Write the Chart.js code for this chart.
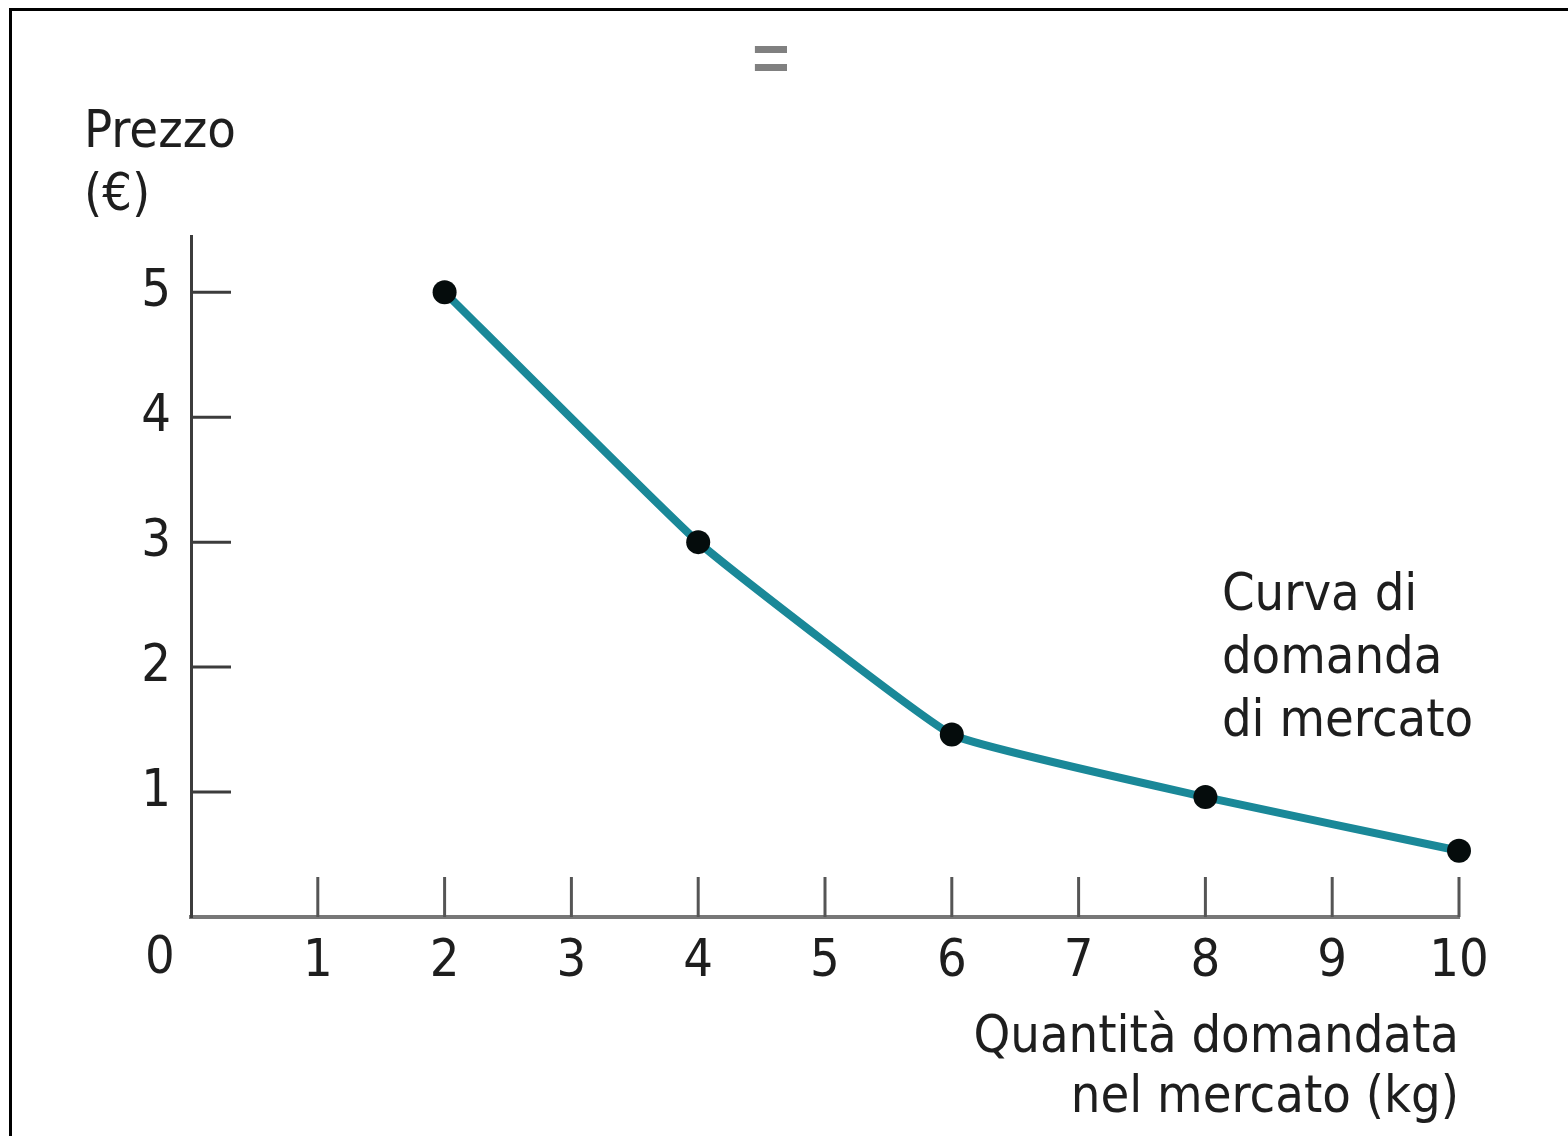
<!DOCTYPE html>
<html>
<head>
<meta charset="utf-8">
<script src="https://cdn.jsdelivr.net/npm/chart.js@4.4.1/dist/chart.umd.min.js"></script>
<style>
  html, body { margin: 0; padding: 0; background: #fff; overflow: hidden; }
  #frame { position: absolute; left: 9px; top: 8px; width: 1600px; height: 1200px;
           border-left: 3px solid #000; border-top: 3px solid #000; }
  #myChart { position: absolute; left: 0; top: 0; }
</style>
</head>
<body>
<div id="frame"></div>
<canvas id="myChart" width="1568" height="1136"></canvas>
<script>
// demand curve points
const quantita = [2, 4, 6, 8, 10];
const prezzo = [5, 3, 1.46, 0.96, 0.53];

// tick labels
const xTicks = [1, 2, 3, 4, 5, 6, 7, 8, 9, 10];
const yTicks = [1, 2, 3, 4, 5];

const yTitle = ['Prezzo', '(€)'];
const xTitle = ['Quantità domandata', 'nel mercato (kg)'];
const curveLabel = ['Curva di', 'domanda', 'di mercato'];

const FONT = "'Liberation Sans Narrow', 'DejaVu Sans Condensed', sans-serif";
const SIZE = 52;
const TEXT = '#1e1e1e';

// inward tick marks + free text
const decor = {
    id: 'decor',
    beforeDatasetsDraw(chart) {
        const { ctx, scales: { x, y } } = chart;
        ctx.save();
        ctx.lineWidth = 3;
        ctx.strokeStyle = '#555';
        xTicks.forEach(v => {
            const px = x.getPixelForValue(v);
            ctx.beginPath();
            ctx.moveTo(px, y.bottom);
            ctx.lineTo(px, y.bottom - 40);
            ctx.stroke();
        });
        ctx.strokeStyle = '#3c3c3c';
        yTicks.forEach(v => {
            const py = y.getPixelForValue(v);
            ctx.beginPath();
            ctx.moveTo(x.left, py);
            ctx.lineTo(x.left + 40, py);
            ctx.stroke();
        });
        ctx.restore();
    },
    afterDraw(chart) {
        const { ctx, scales: { x, y } } = chart;
        ctx.save();
        ctx.fillStyle = TEXT;
        ctx.font = SIZE + 'px ' + FONT;
        ctx.textBaseline = 'middle';

        // origin label
        ctx.textAlign = 'center';
        ctx.fillText('0', x.getPixelForValue(0) - 31, y.bottom + 42);

        // y title, horizontal above the axis
        ctx.textAlign = 'left';
        yTitle.forEach((t, i) => ctx.fillText(t, 84, 133 + i * 63));

        // curve label
        const lx = x.getPixelForValue(8.13);
        curveLabel.forEach((t, i) => ctx.fillText(t, lx, y.getPixelForValue(2.6) + 4 + i * 63));

        // "=" mark at top
        ctx.fillStyle = '#808080';
        ctx.textAlign = 'center';
        ctx.font = 'bold 64px "Liberation Sans", sans-serif';
        ctx.fillText('=', 771, 62);
        ctx.restore();
    }
};

new Chart(document.getElementById('myChart').getContext('2d'), {
    type: 'line',
    data: {
        datasets: [{
            data: quantita.map((q, i) => ({ x: q, y: prezzo[i] })),
            borderColor: '#1a8898',
            borderWidth: 8,
            tension: 0.1,
            clip: false,
            pointRadius: 12,
            pointBackgroundColor: '#050c0c',
            pointBorderColor: '#050c0c',
            pointBorderWidth: 0
        }]
    },
    options: {
        responsive: false,
        devicePixelRatio: 1,
        animation: false,
        layout: { padding: { left: 0, top: 236, right: 109, bottom: 0 } },
        plugins: {
            legend: { display: false },
            tooltip: { enabled: false }
        },
        scales: {
            x: {
                type: 'linear',
                min: 0,
                max: 10,
                grid: { display: false },
                border: { display: true, color: '#777', width: 4 },
                ticks: {
                    stepSize: 1,
                    padding: 6,
                    color: TEXT,
                    font: { family: FONT, size: SIZE },
                    callback: v => xTicks.includes(v) ? String(v) : ''
                },
                title: {
                    display: true,
                    text: xTitle,
                    align: 'end',
                    color: TEXT,
                    font: { family: FONT, size: SIZE, lineHeight: 1.15 },
                    padding: { top: 0, bottom: 8 }
                },
                afterFit(scale) { scale.height = 219; }
            },
            y: {
                min: 0,
                max: 5.45,
                grid: { display: false },
                border: { display: true, color: '#3c3c3c', width: 3 },
                ticks: {
                    stepSize: 1,
                    includeBounds: false,
                    padding: 12,
                    color: TEXT,
                    font: { family: FONT, size: SIZE },
                    callback: v => yTicks.includes(v) ? String(v) : ''
                },
                afterFit(scale) { scale.width = 191; }
            }
        }
    },
    plugins: [decor]
});
</script>
</body>
</html>
